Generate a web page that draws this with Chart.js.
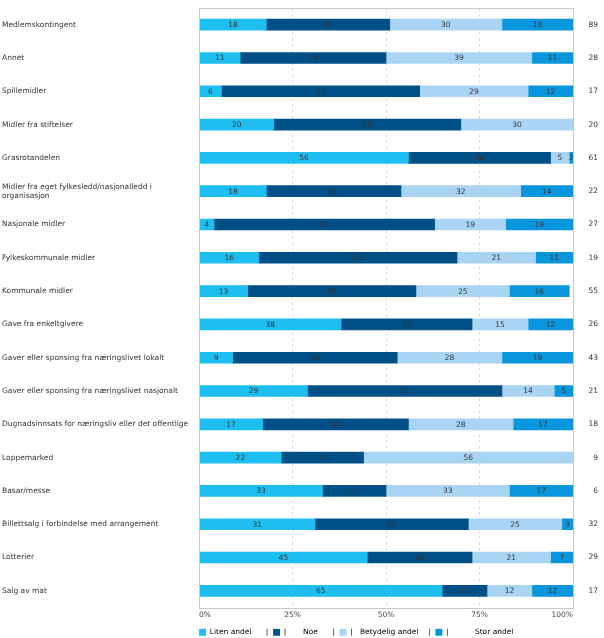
<!DOCTYPE html>
<html>
<head>
<meta charset="utf-8">
<script src="https://cdn.jsdelivr.net/npm/chart.js@4/dist/chart.umd.min.js"></script>
<style>
  html, body { margin: 0; padding: 0; background: #fff; }
  #wrap { width: 604px; height: 638px; position: relative; }
</style>
</head>
<body>
<div id="wrap"><canvas id="c"></canvas></div>
<script>
const categories = [
  "Medlemskontingent",
  "Annet",
  "Spillemidler",
  "Midler fra stiftelser",
  "Grasrotandelen",
  ["Midler fra eget fylkesledd/nasjonalledd i", "organisasjon"],
  "Nasjonale midler",
  "Fylkeskommunale midler",
  "Kommunale midler",
  "Gave fra enkeltgivere",
  "Gaver eller sponsing fra næringslivet lokalt",
  "Gaver eller sponsing fra næringslivet nasjonalt",
  "Dugnadsinnsats for næringsliv eller det offentlige",
  "Loppemarked",
  "Basar/messe",
  "Billettsalg i forbindelse med arrangement",
  "Lotterier",
  "Salg av mat"
];
const litenAndel     = [18, 11,  6, 20, 56, 18,  4, 16, 13, 38,  9, 29, 17, 22, 33, 31, 45, 65];
const noe            = [33, 39, 53, 50, 38, 36, 59, 53, 45, 35, 44, 52, 39, 22, 17, 41, 28, 12];
const betydeligAndel = [30, 39, 29, 30,  5, 32, 19, 21, 25, 15, 28, 14, 28, 56, 33, 25, 21, 12];
const storAndel      = [19, 11, 12, null, 2, 14, 19, 11, 16, 12, 19,  5, 17, null, 17,  3,  7, 12];
const nCounts        = [89, 28, 17, 20, 61, 22, 27, 19, 55, 26, 43, 21, 18,  9,  6, 32, 29, 17];
const xTicks = ["0%", "25%", "50%", "75%", "100%"];
const seriesNames = ["Liten andel", "Noe", "Betydelig andel", "Stor andel"];
const legendTexts = [
  "Liten andel      |  ",
  "|       Noe      |  ",
  "|   Betydelig andel    |  ",
  "|           Stor andel"
];

const FONT = "'DejaVu Sans', Verdana, sans-serif";
const FS = 7.5;
const colors = ["#1EBEF0", "#005087", "#AAD4F3", "#0A96DC"];

const barLabels = {
  id: 'barLabels',
  afterDatasetsDraw(chart) {
    const ctx = chart.ctx;
    ctx.save();
    ctx.font = FS + "px " + FONT;
    ctx.fillStyle = "#333";
    ctx.textAlign = "center";
    ctx.textBaseline = "middle";
    const ca = chart.chartArea;
    chart.data.datasets.forEach((ds, i) => {
      const meta = chart.getDatasetMeta(i);
      meta.data.forEach((el, j) => {
        const v = ds.data[j];
        if (v == null) return;
        const x0 = Math.min(el.base, ca.right), x1 = Math.min(el.x, ca.right);
        ctx.fillText(String(v), (x0 + x1) / 2, el.y + 0.5);
      });
    });
    ctx.restore();
  }
};
const frame = {
  id: 'frame',
  afterDraw(chart) {
    const ca = chart.chartArea, ctx = chart.ctx;
    ctx.save();
    ctx.strokeStyle = "#c8c8c8";
    ctx.lineWidth = 1;
    ctx.strokeRect(Math.round(ca.left) + 0.5, Math.round(ca.top) + 0.5, Math.round(ca.right - ca.left), Math.round(ca.bottom - ca.top));
    ctx.restore();
  }
};

new Chart(document.getElementById('c'), {
  type: 'bar',
  data: {
    labels: categories,
    datasets: [litenAndel, noe, betydeligAndel, storAndel].map((d, i) => ({
      label: seriesNames[i],
      data: d,
      backgroundColor: colors[i],
      borderWidth: 0,
      barThickness: 11,
      xAxisID: 'x',
      yAxisID: 'y'
    }))
  },
  options: {
    indexAxis: 'y',
    responsive: true,
    maintainAspectRatio: false,
    animation: false,
    layout: { padding: { top: 8, left: 2, right: 6, bottom: -8 } },
    scales: {
      x: {
        stacked: true,
        min: 0, max: 100,
        position: 'bottom',
        grid: { color: "#dcdcdc", drawTicks: false },
        border: { display: false, dash: [3, 3] },
        afterFit(scale) { scale.height = 21; },
        ticks: {
          stepSize: 25,
          padding: 3,
          align: 'inner',
          color: "#444",
          font: { family: FONT, size: FS },
          callback: (v, i) => xTicks[i]
        }
      },
      y: {
        stacked: true,
        position: 'left',
        grid: { display: false, drawTicks: false },
        border: { display: false },
        afterFit(scale) { scale.width = 197; },
        ticks: {
          crossAlign: 'far',
          padding: 0,
          color: "#333",
          font: { family: FONT, size: FS }
        }
      },
      y2: {
        type: 'category',
        labels: nCounts.map(String),
        position: 'right',
        offset: true,
        grid: { display: false, drawTicks: false },
        border: { display: false },
        afterFit(scale) { scale.width = 25; },
        ticks: {
          crossAlign: 'far',
          padding: 0,
          color: "#333",
          font: { family: FONT, size: FS }
        }
      }
    },
    plugins: {
      legend: {
        position: 'bottom',
        align: 'start',
        fullSize: false,
        labels: {
          boxWidth: 7,
          boxHeight: 7,
          padding: 0,
          color: "#333",
          font: { family: FONT, size: FS },
          generateLabels(chart) {
            return chart.data.datasets.map((ds, i) => ({
              text: legendTexts[i],
              fillStyle: ds.backgroundColor,
              strokeStyle: ds.backgroundColor,
              lineWidth: 0,
              datasetIndex: i,
              hidden: false
            }));
          }
        }
      },
      tooltip: { enabled: false }
    }
  },
  plugins: [barLabels, frame]
});
</script>
</body>
</html>
